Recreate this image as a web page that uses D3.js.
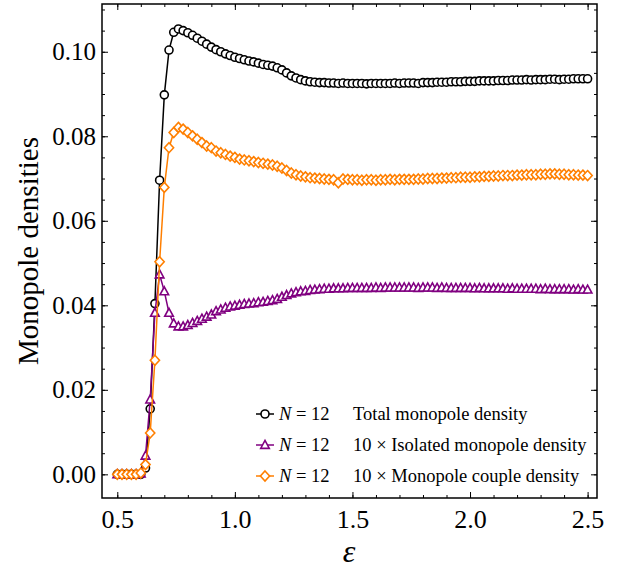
<!DOCTYPE html>
<html>
<head>
<meta charset="utf-8">
<script src="https://cdn.jsdelivr.net/npm/d3@7"></script>
<style>
  body { margin: 0; background: #fff; }
  text { font-family: "Liberation Serif", "DejaVu Serif", serif; }
</style>
</head>
<body>
<div id="chart"></div>
<script>
// epsilon grid: 0.50 .. 2.50 in steps of 0.02
var epsStart = 0.50, epsStep = 0.02;

var totalDensity = [
    0, 0, 0, 0, 0, 0, 0.0015, 0.0155, 0.0404, 0.0696,
    0.0898, 0.1004, 0.1046, 0.1054, 0.1050, 0.1045, 0.1039, 0.1032, 0.1025, 0.1018,
    0.1011, 0.1005, 0.1000, 0.0995, 0.0991, 0.0987, 0.0984, 0.0981, 0.0978, 0.0976,
    0.0973, 0.0970, 0.0968, 0.0966, 0.0962, 0.0957, 0.0950, 0.0943, 0.0938, 0.0934,
    0.0931, 0.0929, 0.0928, 0.0927, 0.0927, 0.0926, 0.0926, 0.0925, 0.0926, 0.0925,
    0.0925, 0.0925, 0.0925, 0.0924, 0.0925, 0.0925, 0.0925, 0.0925, 0.0925, 0.0926,
    0.0925, 0.0926, 0.0926, 0.0926, 0.0925, 0.0927, 0.0927, 0.0927, 0.0928, 0.0928,
    0.0928, 0.0929, 0.0929, 0.0929, 0.0930, 0.0930, 0.0930, 0.0931, 0.0931, 0.0931,
    0.0931, 0.0932, 0.0932, 0.0932, 0.0933, 0.0933, 0.0933, 0.0934, 0.0933, 0.0934,
    0.0934, 0.0934, 0.0935, 0.0935, 0.0934, 0.0935, 0.0935, 0.0936, 0.0936, 0.0936,
    0.0936
];

// 10 x isolated monopole density
var isolatedDensity = [
    0, 0, 0, 0, 0, 0.0002, 0.0044, 0.0177, 0.0382, 0.0473,
    0.0433, 0.0382, 0.0357, 0.0350, 0.0350, 0.0353, 0.0358, 0.0363, 0.0368, 0.0373,
    0.0378, 0.0386, 0.0390, 0.0394, 0.0397, 0.0399, 0.0401, 0.0403, 0.0404, 0.0405,
    0.0407, 0.0408, 0.0410, 0.0412, 0.0415, 0.0420, 0.0424, 0.0428, 0.0431, 0.0433,
    0.0434, 0.0436, 0.0437, 0.0438, 0.0439, 0.0439, 0.0440, 0.0440, 0.0440, 0.0441,
    0.0441, 0.0441, 0.0441, 0.0441, 0.0441, 0.0442, 0.0441, 0.0442, 0.0442, 0.0442,
    0.0442, 0.0442, 0.0442, 0.0442, 0.0441, 0.0442, 0.0442, 0.0442, 0.0441, 0.0442,
    0.0441, 0.0441, 0.0441, 0.0441, 0.0441, 0.0441, 0.0440, 0.0441, 0.0440, 0.0440,
    0.0440, 0.0440, 0.0440, 0.0439, 0.0440, 0.0439, 0.0439, 0.0439, 0.0439, 0.0439,
    0.0438, 0.0439, 0.0438, 0.0438, 0.0438, 0.0438, 0.0438, 0.0437, 0.0438, 0.0437,
    0.0437
];

// 10 x monopole couple density
var coupleDensity = [
    0, 0, 0, 0, 0, 0.0003, 0.0023, 0.0098, 0.0270, 0.0503,
    0.0679, 0.0773, 0.0809, 0.0821, 0.0817, 0.0809, 0.0801, 0.0793, 0.0785, 0.0777,
    0.0773, 0.0765, 0.0761, 0.0757, 0.0753, 0.0750, 0.0746, 0.0744, 0.0742, 0.0740,
    0.0738, 0.0736, 0.0734, 0.0732, 0.0729, 0.0725, 0.0719, 0.0713, 0.0709, 0.0706,
    0.0704, 0.0702, 0.0701, 0.0700, 0.0699, 0.0698, 0.0697, 0.0690, 0.0699, 0.0698,
    0.0697, 0.0697, 0.0696, 0.0697, 0.0697, 0.0696, 0.0697, 0.0697, 0.0698, 0.0697,
    0.0698, 0.0698, 0.0698, 0.0698, 0.0699, 0.0699, 0.0700, 0.0700, 0.0700, 0.0701,
    0.0701, 0.0702, 0.0702, 0.0703, 0.0703, 0.0703, 0.0704, 0.0704, 0.0705, 0.0705,
    0.0706, 0.0706, 0.0707, 0.0707, 0.0707, 0.0708, 0.0708, 0.0709, 0.0709, 0.0709,
    0.0710, 0.0710, 0.0711, 0.0711, 0.0710, 0.0710, 0.0709, 0.0709, 0.0708, 0.0708,
    0.0707
];

var xTicks = [0.5, 1.0, 1.5, 2.0, 2.5];
var yTicks = [0.00, 0.02, 0.04, 0.06, 0.08, 0.10];
var seriesNames = ["Total monopole density", "10 × Isolated monopole density", "10 × Monopole couple density"];

var width = 628, height = 571;
var pLeft = 102, pRight = 597, pTop = 4, pBottom = 498;

var x = d3.scaleLinear().domain([0.435, 2.54]).range([pLeft, pRight]);
var y = d3.scaleLinear().domain([-0.0056, 0.1113]).range([pBottom, pTop]);

var svg = d3.select("#chart").append("svg")
    .attr("width", width)
    .attr("height", height);

// markers
var circlePath = d3.symbol().type(d3.symbolCircle).size(Math.PI * 16)();
var trianglePath = "M0,-4.6L4.3,3.4L-4.3,3.4Z";
var diamondPath = "M0,-5L4.6,0L0,5L-4.6,0Z";

var series = [
    { name: seriesNames[0], values: totalDensity, color: "#000000", marker: circlePath },
    { name: seriesNames[1], values: isolatedDensity, color: "#800080", marker: trianglePath },
    { name: seriesNames[2], values: coupleDensity, color: "#ff7f00", marker: diamondPath }
];

var line = d3.line()
    .x(function (d, i) { return x(epsStart + i * epsStep); })
    .y(function (d) { return y(d); });

series.forEach(function (s) {
    var g = svg.append("g");
    g.append("path")
        .attr("d", line(s.values))
        .attr("fill", "none")
        .attr("stroke", s.color)
        .attr("stroke-width", 1.5);
    g.selectAll("path.mk")
        .data(s.values)
        .enter()
        .append("path")
        .attr("class", "mk")
        .attr("d", s.marker)
        .attr("transform", function (d, i) {
            return "translate(" + x(epsStart + i * epsStep) + "," + y(d) + ")";
        })
        .attr("fill", "#fff")
        .attr("stroke", s.color)
        .attr("stroke-width", 1.6);
});

// axes, ticks inward on all four sides
var xMinor = d3.range(0.5, 2.501, 0.1);
var yMinor = d3.range(0, 0.1101, 0.005);

function styleAxis(g) {
    g.select(".domain").remove();
    g.selectAll("line").attr("stroke", "#000").attr("stroke-width", 1);
    g.selectAll("text").attr("fill", "#000").style("font-size", "25px");
}

svg.append("g").attr("transform", "translate(0," + pBottom + ")")
    .call(d3.axisBottom(x).tickValues(xMinor).tickSize(-3).tickFormat(""))
    .call(styleAxis);
svg.append("g").attr("transform", "translate(0," + pBottom + ")")
    .call(d3.axisBottom(x).tickValues(xTicks).tickSize(-6).tickPadding(12).tickFormat(d3.format(".1f")))
    .call(styleAxis)
    .selectAll("text").style("font-size", "26px");
svg.append("g").attr("transform", "translate(0," + pTop + ")")
    .call(d3.axisTop(x).tickValues(xMinor).tickSize(-3).tickFormat(""))
    .call(styleAxis);
svg.append("g").attr("transform", "translate(0," + pTop + ")")
    .call(d3.axisTop(x).tickValues(xTicks).tickSize(-6).tickFormat(""))
    .call(styleAxis);

svg.append("g").attr("transform", "translate(" + pLeft + ",0)")
    .call(d3.axisLeft(y).tickValues(yMinor).tickSize(-3).tickFormat(""))
    .call(styleAxis);
svg.append("g").attr("transform", "translate(" + pLeft + ",0)")
    .call(d3.axisLeft(y).tickValues(yTicks).tickSize(-6).tickPadding(6).tickFormat(d3.format(".2f")))
    .call(styleAxis);
svg.append("g").attr("transform", "translate(" + pRight + ",0)")
    .call(d3.axisRight(y).tickValues(yMinor).tickSize(-3).tickFormat(""))
    .call(styleAxis);
svg.append("g").attr("transform", "translate(" + pRight + ",0)")
    .call(d3.axisRight(y).tickValues(yTicks).tickSize(-6).tickFormat(""))
    .call(styleAxis);

// frame
svg.append("rect")
    .attr("x", pLeft).attr("y", pTop)
    .attr("width", pRight - pLeft).attr("height", pBottom - pTop)
    .attr("fill", "none").attr("stroke", "#000").attr("stroke-width", 1.5);

// axis labels
svg.append("text")
    .attr("x", 349).attr("y", 562)
    .attr("text-anchor", "middle")
    .style("font-size", "32px").style("font-style", "italic")
    .text("ε");
svg.append("text")
    .attr("transform", "translate(38," + (pTop + pBottom) / 2 + ") rotate(-90)")
    .attr("text-anchor", "middle")
    .style("font-size", "29px")
    .text("Monopole densities");

// legend
var legend = svg.append("g");
var rowY = [414, 445, 476];
series.forEach(function (s, i) {
    var r = legend.append("g").attr("transform", "translate(0," + rowY[i] + ")");
    r.append("line").attr("x1", 256).attr("x2", 274).attr("y1", 0).attr("y2", 0)
        .attr("stroke", s.color).attr("stroke-width", 1.5);
    r.append("path").attr("d", s.marker).attr("transform", "translate(265,0)")
        .attr("fill", "#fff").attr("stroke", s.color).attr("stroke-width", 1.6);
    var t = r.append("text").attr("x", 279).attr("y", 6).style("font-size", "18.5px");
    t.append("tspan").style("font-style", "italic").text("N");
    t.append("tspan").text(" = 12");
    r.append("text").attr("x", 353).attr("y", 6).style("font-size", "18.5px").text(s.name);
});
</script>
</body>
</html>
